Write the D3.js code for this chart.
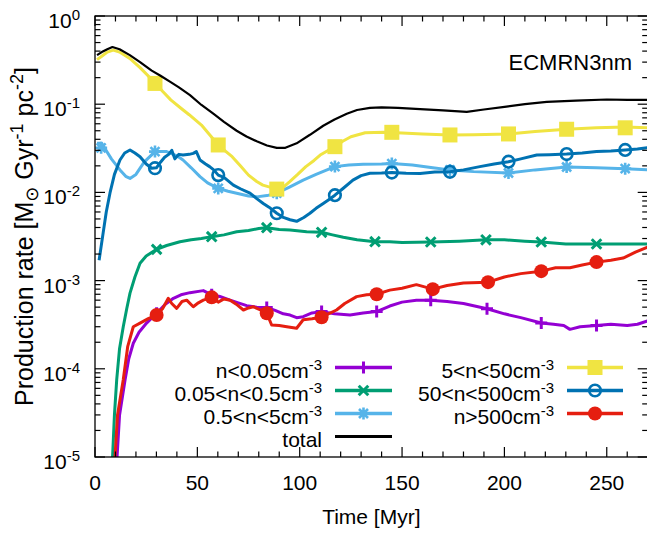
<!DOCTYPE html>
<html><head><meta charset="utf-8">
<script src="https://cdn.jsdelivr.net/npm/d3@7/dist/d3.min.js"></script>
<style>
body{margin:0;background:#fff}
text{font-family:"Liberation Sans",Arial,Helvetica,sans-serif;fill:#000}
</style>
</head><body>
<svg id="chart" width="647" height="535"></svg>
<script>
// ---------------- data ----------------
const xTicks = [0, 50, 100, 150, 200, 250];
const yExponents = [0, -1, -2, -3, -4, -5];
const title = "ECMRN3nm";

const totalData = [[1,0.36],[3.3,0.39],[6,0.42],[8.5,0.445],[12,0.42],[17,0.36],[22,0.30],[27.7,0.24],[32,0.21],[36.6,0.18],[41,0.155],[46.4,0.127],[52,0.098],[57.8,0.078],[63,0.063],[69.2,0.050],[74,0.043],[79,0.038],[84,0.034],[88.8,0.032],[93,0.032],[98.5,0.036],[105,0.045],[111.5,0.057],[117,0.067],[123,0.078],[128,0.086],[134.3,0.091],[140,0.092],[148,0.091],[158.8,0.088],[170,0.085],[181.6,0.082],[190,0.087],[201,0.094],[210,0.100],[220.7,0.106],[235,0.110],[250,0.113],[260,0.112],[270,0.112]];

const n5to50Data = [[1,0.32],[3.3,0.35],[6,0.39],[8.9,0.41],[12,0.39],[17,0.33],[22,0.26],[29.3,0.175],[33,0.14],[37,0.112],[42,0.09],[46,0.076],[52,0.058],[56,0.045],[60.2,0.0345],[64,0.029],[67,0.0254],[71,0.02],[75,0.0157],[79,0.0133],[82,0.0121],[88.8,0.0109],[92,0.0115],[95,0.0132],[99,0.016],[103,0.0196],[107,0.023],[110,0.0265],[117.2,0.033],[121,0.038],[125,0.0428],[132,0.0475],[141,0.048],[150,0.047],[160,0.046],[173.4,0.0448],[185,0.045],[202,0.046],[215,0.049],[230.4,0.052],[245,0.054],[259,0.055],[270,0.054]];
const n5to50Marks = [[29.3,0.172],[60.2,0.0345],[88.8,0.0109],[117.2,0.033],[145,0.048],[173.4,0.0448],[202,0.046],[230.4,0.052],[259,0.054]];

const n05to5Data = [[1,0.036],[3.3,0.036],[5,0.031],[8,0.024],[12.2,0.018],[15,0.0152],[17.1,0.0144],[20,0.016],[24,0.022],[29.3,0.029],[35,0.029],[40,0.026],[43,0.0233],[47,0.019],[51.3,0.0151],[55,0.0128],[60.2,0.0111],[65,0.0103],[69.2,0.0098],[75,0.0091],[79,0.0089],[84,0.0092],[88.8,0.0098],[95,0.0115],[101.7,0.0138],[108,0.016],[117.2,0.0196],[124,0.0205],[131,0.0209],[140,0.021],[145,0.0212],[155,0.0205],[165,0.019],[173.4,0.018],[185,0.0172],[202,0.0166],[215,0.018],[230.4,0.0194],[245,0.019],[259,0.0186],[270,0.018]];
const n05to5Marks = [[3,0.032],[29.3,0.029],[60.2,0.0111],[88.8,0.0098],[117.2,0.0196],[145,0.0212],[173.4,0.018],[202,0.0166],[230.4,0.0194],[259,0.0186]];

const n50to500Data = [[2,0.0017],[4,0.0035],[5.5,0.006],[7.3,0.0098],[9.5,0.016],[12.2,0.0233],[14.5,0.028],[17.1,0.0303],[19.5,0.028],[22,0.0254],[25,0.021],[27.7,0.0188],[30,0.019],[32,0.022],[34,0.025],[36,0.027],[37.5,0.03],[39,0.024],[41,0.027],[43,0.0265],[46,0.027],[48,0.0277],[49.5,0.029],[51.3,0.0233],[54,0.021],[56,0.0196],[58,0.018],[60.2,0.0157],[63,0.0148],[67.6,0.0121],[71,0.011],[75.7,0.0098],[79,0.0085],[82.2,0.0075],[85,0.0068],[88.8,0.0058],[92,0.0052],[95.3,0.0049],[98.5,0.0047],[102,0.0052],[105,0.0058],[108,0.0066],[111.5,0.0075],[114,0.0082],[117.2,0.0093],[121,0.011],[126,0.0138],[130,0.0155],[134.3,0.0165],[140,0.0166],[145,0.0168],[152,0.0165],[158.8,0.0164],[166,0.017],[173.4,0.0171],[180,0.018],[188,0.0196],[195,0.021],[202,0.0223],[208,0.024],[215.8,0.0265],[222,0.0268],[230.4,0.0272],[238,0.028],[245,0.029],[252,0.0295],[259,0.0303],[265,0.031],[270,0.0321]];
const n50to500Marks = [[29.3,0.0188],[60.2,0.0157],[88.8,0.0058],[117.2,0.0093],[145,0.0168],[173.4,0.0171],[202,0.0223],[230.4,0.0272],[259,0.0303]];

const n005to05Data = [[8,0.000005],[9.5,0.00003],[10.6,0.000075],[12,0.00017],[13.8,0.0003],[15.5,0.00048],[17.1,0.00072],[19.5,0.0011],[22,0.00157],[25,0.0019],[30.1,0.00226],[35,0.0025],[41.5,0.00276],[47,0.0029],[52,0.003],[57,0.00315],[63,0.0033],[69.2,0.00358],[75,0.0037],[80,0.0039],[83.9,0.00398],[90,0.0038],[95.3,0.00375],[103.4,0.00358],[110.7,0.00353],[116,0.0033],[121.3,0.0031],[128,0.0029],[136.8,0.00276],[144,0.00276],[150,0.0027],[164,0.00274],[178,0.0028],[191,0.0029],[200,0.0029],[210,0.0028],[218,0.00274],[230,0.0026],[245,0.0026],[258,0.0026],[270,0.0026]];
const n005to05Marks = [[30.1,0.00226],[57,0.00315],[83.9,0.00398],[110.7,0.00353],[136.8,0.00276],[164,0.00274],[191,0.0029],[218,0.00274],[245,0.0026]];

const nGt500Data = [[9,0.000005],[11,0.00003],[13.8,0.000075],[16,0.00018],[18.7,0.0003],[22,0.00033],[26,0.00037],[30.1,0.000407],[33,0.00048],[35.8,0.00063],[37.5,0.00055],[39.9,0.000485],[42.5,0.00058],[44.8,0.0006],[48,0.000506],[50.5,0.00056],[52.9,0.0006],[57,0.000646],[60.2,0.00057],[63,0.00062],[66,0.0006],[69,0.00054],[72.5,0.000464],[75,0.00049],[77.3,0.000506],[80.5,0.00047],[83.9,0.000426],[86.3,0.000314],[90,0.00031],[93.7,0.0003],[98.5,0.000288],[101.7,0.00036],[106,0.00037],[110.7,0.000384],[114,0.00042],[118,0.000464],[122,0.00055],[127.8,0.000658],[132.7,0.00069],[137.6,0.0007],[144,0.00078],[150,0.00082],[157,0.0009],[165,0.0008],[172,0.00088],[180,0.00094],[192,0.00096],[200,0.0011],[208,0.0012],[218,0.00128],[225,0.0014],[232,0.0014],[238,0.0015],[245,0.00162],[252,0.0017],[258,0.0018],[264,0.0021],[270,0.0024]];
const nGt500Marks = [[30.1,0.000407],[57,0.000646],[83.9,0.000426],[110.7,0.000384],[137.6,0.0007],[165,0.0008],[192,0.00096],[218,0.00128],[245,0.00162]];

const nLt005Data = [[10,0.000005],[12,0.00003],[14.7,0.000075],[16.5,0.00013],[18.7,0.000195],[21.5,0.00026],[25.2,0.00033],[30.1,0.000426],[34,0.00053],[38.3,0.00063],[42,0.00069],[46.4,0.00073],[52.9,0.00077],[57,0.00069],[61,0.00066],[66,0.0006],[70,0.00056],[74.1,0.00052],[79,0.0005],[83.9,0.000497],[88,0.00046],[92,0.00042],[95.3,0.000407],[98.5,0.00038],[101.7,0.00039],[106,0.00043],[110.7,0.000445],[117,0.00042],[124.6,0.000407],[131,0.00043],[137.6,0.000445],[144,0.000515],[150,0.00057],[157,0.0006],[164,0.0006],[172,0.00058],[180,0.00055],[191.5,0.00048],[200,0.00042],[208,0.00038],[218,0.00033],[224,0.00032],[229,0.00031],[232,0.00028],[237,0.0003],[245,0.00031],[252,0.00032],[260,0.00031],[265,0.00032],[270,0.00035]];
const nLt005Marks = [[30.1,0.000426],[57,0.00069],[83.9,0.000497],[110.7,0.000445],[137.6,0.000445],[164,0.0006],[191.5,0.00048],[218,0.00033],[245,0.00031]];

// legend labels: [base, superscript]
const labels = {
  lt005: ["n<0.05cm", "-3"],
  r005: ["0.05<n<0.5cm", "-3"],
  r05: ["0.5<n<5cm", "-3"],
  total: ["total", ""],
  r5: ["5<n<50cm", "-3"],
  r50: ["50<n<500cm", "-3"],
  gt500: ["n>500cm", "-3"]
};

// ---------------- chart ----------------
const svg = d3.select("#chart");
const L = 95, R = 647.7, T = 16, B = 457;
const x = d3.scaleLinear().domain([0, 270]).range([L, R]);
const y = d3.scaleLog().domain([1e-5, 1]).range([B, T]);

const series = [
  {key:"lt005", data:nLt005Data, marks:nLt005Marks, color:"#9400D3", w:3, shape:"plus", col:0, row:0},
  {key:"r005", data:n005to05Data, marks:n005to05Marks, color:"#009E73", w:3, shape:"cross", col:0, row:1},
  {key:"r05", data:n05to5Data, marks:n05to5Marks, color:"#56B4E9", w:3, shape:"star", col:0, row:2},
  {key:"r5", data:n5to50Data, marks:n5to50Marks, color:"#F0E442", w:3, shape:"square", col:1, row:0},
  {key:"r50", data:n50to500Data, marks:n50to500Marks, color:"#0072B2", w:3, shape:"circle", col:1, row:1},
  {key:"gt500", data:nGt500Data, marks:nGt500Marks, color:"#E51E10", w:3, shape:"disc", col:1, row:2},
  {key:"total", data:totalData, marks:[], color:"#000000", w:2.2, shape:null, col:0, row:3}
];

svg.append("defs").append("clipPath").attr("id","clip")
  .append("rect").attr("x",L).attr("y",T).attr("width",R-L).attr("height",B-T);

function drawMarker(g, shape, cx, cy, color) {
  const s = 6;
  if (shape === "plus") {
    g.append("path").attr("d",`M${cx-s},${cy}H${cx+s}M${cx},${cy-s}V${cy+s}`)
      .attr("stroke",color).attr("stroke-width",3).attr("fill","none");
  } else if (shape === "cross") {
    const a = 4.8;
    g.append("path").attr("d",`M${cx-a},${cy-a}L${cx+a},${cy+a}M${cx-a},${cy+a}L${cx+a},${cy-a}`)
      .attr("stroke",color).attr("stroke-width",3).attr("fill","none");
  } else if (shape === "star") {
    const a = 4.5;
    g.append("path").attr("d",`M${cx-s},${cy}H${cx+s}M${cx},${cy-s}V${cy+s}M${cx-a},${cy-a}L${cx+a},${cy+a}M${cx-a},${cy+a}L${cx+a},${cy-a}`)
      .attr("stroke",color).attr("stroke-width",2.6).attr("fill","none");
  } else if (shape === "square") {
    g.append("rect").attr("x",cx-7.5).attr("y",cy-7.5).attr("width",15).attr("height",15).attr("fill",color);
  } else if (shape === "circle") {
    g.append("circle").attr("cx",cx).attr("cy",cy).attr("r",5.8)
      .attr("stroke",color).attr("stroke-width",2.6).attr("fill","none");
  } else if (shape === "disc") {
    g.append("circle").attr("cx",cx).attr("cy",cy).attr("r",7).attr("fill",color);
  }
}

const plot = svg.append("g").attr("clip-path","url(#clip)");
const line = d3.line().x(d => x(d[0])).y(d => y(Math.max(d[1],1e-7)));

const drawOrder = ["lt005","r005","r05","r5","r50","gt500","total"];
drawOrder.forEach(k => {
  const s = series.find(z => z.key === k);
  const g = plot.append("g");
  g.append("path").datum(s.data).attr("d",line).attr("fill","none")
    .attr("stroke",s.color).attr("stroke-width",s.w).attr("stroke-linejoin","round");
  s.marks.forEach(p => drawMarker(g, s.shape, x(p[0]), y(p[1]), s.color));
});

// frame
svg.append("rect").attr("x",L).attr("y",T).attr("width",R-L).attr("height",B-T)
  .attr("fill","none").attr("stroke","#000").attr("stroke-width",1.3);

// ticks
const tg = svg.append("g").attr("stroke","#000").attr("stroke-width",1.2);
const majL = 10, minL = 5.5;
d3.range(0, 271, 10).forEach(v => {
  const len = (v % 50 === 0) ? majL : minL;
  const px = x(v);
  tg.append("line").attr("x1",px).attr("x2",px).attr("y1",B).attr("y2",B-len);
  tg.append("line").attr("x1",px).attr("x2",px).attr("y1",T).attr("y2",T+len);
});
yExponents.forEach(e => {
  const py = y(Math.pow(10,e));
  tg.append("line").attr("x1",L).attr("x2",L+majL).attr("y1",py).attr("y2",py);
  tg.append("line").attr("x1",R).attr("x2",R-majL).attr("y1",py).attr("y2",py);
  if (e > -5) {
    for (let m = 2; m <= 9; m++) {
      const pm = y(m*Math.pow(10,e-1));
      tg.append("line").attr("x1",L).attr("x2",L+minL).attr("y1",pm).attr("y2",pm);
      tg.append("line").attr("x1",R).attr("x2",R-minL).attr("y1",pm).attr("y2",pm);
    }
  }
});

// tick labels
const FS = 21;
xTicks.forEach(v => {
  svg.append("text").attr("x",x(v)).attr("y",490).attr("text-anchor","middle")
    .attr("font-size",FS).text(v);
});
yExponents.forEach(e => {
  const t = svg.append("text").attr("x",80).attr("y",y(Math.pow(10,e))+12)
    .attr("text-anchor","end").attr("font-size",FS);
  t.append("tspan").text("10");
  t.append("tspan").attr("dy",-8).attr("font-size",15).text(String(e));
});

// axis titles
svg.append("text").attr("x",x(135)).attr("y",524).attr("text-anchor","middle")
  .attr("font-size",FS).text("Time [Myr]");
const yl = svg.append("text").attr("transform",`translate(33,${(T+B)/2}) rotate(-90)`)
  .attr("text-anchor","middle").attr("font-size",25);
yl.append("tspan").text("Production rate [M");
yl.append("tspan").attr("dy",5).attr("font-size",18).attr("font-family","DejaVu Sans").text("\u2299");
yl.append("tspan").attr("dy",-5).text(" Gyr");
yl.append("tspan").attr("dy",-10).attr("font-size",18).text("-1");
yl.append("tspan").attr("dy",10).text(" pc");
yl.append("tspan").attr("dy",-10).attr("font-size",18).text("-2");
yl.append("tspan").attr("dy",10).text("]");

// title
svg.append("text").attr("x",632).attr("y",70).attr("text-anchor","end")
  .attr("font-size",22).text(title);

// legend
const colText = [322, 554], colLine = [[335,392],[567,623]];
const rowY = [367.5, 390.5, 413.5, 436.5];
series.forEach(s => {
  const cy = rowY[s.row];
  const [x1,x2] = colLine[s.col];
  const lab = labels[s.key];
  const t = svg.append("text").attr("x",colText[s.col]).attr("y",cy+10)
    .attr("text-anchor","end").attr("font-size",FS);
  t.append("tspan").text(lab[0]);
  if (lab[1]) t.append("tspan").attr("dy",-8).attr("font-size",15).text(lab[1]);
  const g = svg.append("g");
  g.append("line").attr("x1",x1).attr("x2",x2).attr("y1",cy).attr("y2",cy)
    .attr("stroke",s.color).attr("stroke-width",s.key==="total"?3:3.5);
  if (s.shape) drawMarker(g, s.shape, (x1+x2)/2, cy, s.color);
});
</script>
</body></html>
